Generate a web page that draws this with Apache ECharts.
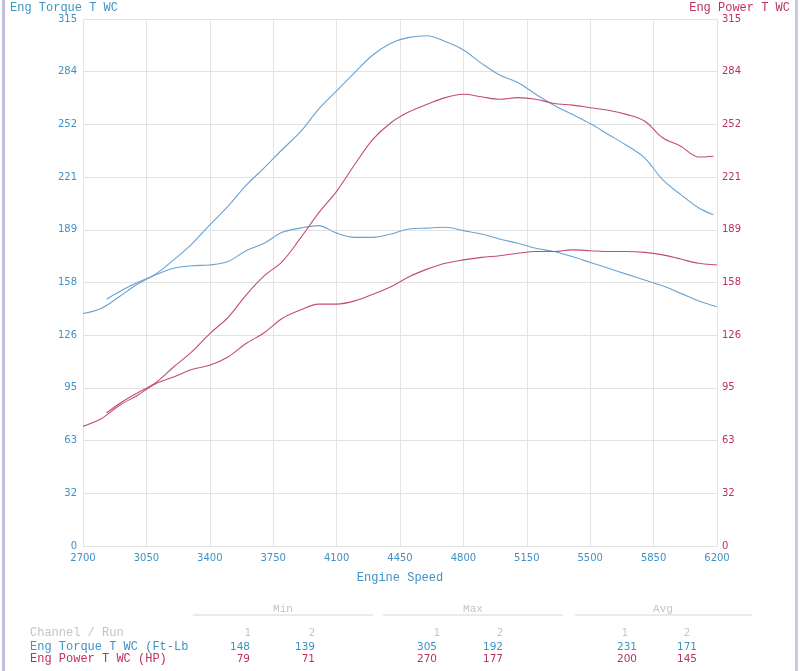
<!DOCTYPE html>
<html>
<head>
<meta charset="utf-8">
<script src="https://cdn.jsdelivr.net/npm/echarts@6/dist/echarts.min.js"></script>
<style>html,body{margin:0;padding:0;background:#fff;}#c{width:800px;height:671px;}</style>
</head>
<body>
<div id="c"></div>
<script>
// ---- data ----
const rpmRun1 = [2830,2900,3000,3100,3200,3300,3400,3500,3600,3700,3800,3900,4000,4100,4200,4300,4400,4500,4600,4700,4800,4900,5000,5100,5200,5300,5400,5500,5600,5700,5800,5900,6000,6100,6180];
const rpmRun2 = [2700,2800,2900,3000,3100,3200,3300,3400,3500,3600,3700,3800,3900,4000,4100,4200,4300,4400,4500,4600,4700,4800,4900,5000,5100,5200,5300,5400,5500,5600,5700,5800,5900,6000,6100,6200];
const torqueRun1 = [147.5,152,157.5,162.5,171,180.5,192,203,215.5,226,237,247.5,261,272,283,293.5,300.5,304,305,301.5,296.5,288.5,281.5,277,270,263.5,258,252.5,246,239.5,232,219,210,202,198];
const powerRun1  = [79.5,85,91.5,97.5,107,116,127,136.5,150,161.5,170,184,199,212,228,243,253,259.5,264,268,270,268.5,267,268,267,264.5,263.5,262,260.5,258,254,244,239,232.5,233];
const torqueRun2 = [139,142,149,156.5,162,166,167.5,168,170,176.5,181,187.5,190,191.5,187,184.5,184.5,186.5,189.5,190,190.5,188.5,186.5,183.5,181,178,176,173,169.5,166,162.5,159,155.5,151,146.5,143];
const powerRun2  = [71.5,76,84,90,97,101,105.5,108,113,121,127.5,136,141,144.6,144.6,146.5,150.5,155,161,165.5,169,171,172.5,173.5,175,176,176,177,176.5,176,176,175.5,174,171.5,169,168];

const xTickStart = 2700, xTickEnd = 6200, xTickStep = 350;
const yTickLabels = [0,32,63,95,126,158,189,221,252,284,315];

const tableChannels = ['Eng Torque T WC (Ft-Lb', 'Eng Power T WC (HP)'];
const tableMin = [[148,139],[79,71]];
const tableMax = [[305,192],[270,177]];
const tableAvg = [[231,171],[200,145]];

// ---- styles ----
const BLUE_LINE = '#6aa3d2', RED_LINE = '#c24d70';
const BLUE_TXT = '#3f92c4', RED_TXT = '#bf2f62';
const GRAY = '#c4c4c4';
const MONO = 'Liberation Mono';
const SANS = 'DejaVu Sans';

function pairs(xs, ys){ return xs.map((x,i)=>[x, ys[i]]); }

const chart = echarts.init(document.getElementById('c'), null, {renderer:'canvas'});

const yAxisBase = (pos, color) => ({
  type:'value', position: pos, min:0, max:315, interval:31.5,
  axisLine:{show:false}, axisTick:{show:false},
  splitLine:{show: pos==='left', lineStyle:{color:'#e2e2e2', width:1}},
  axisLabel:{color: color, fontFamily: SANS, fontSize: 10, margin: pos==='left'?6:5,
    formatter: v => { const i = Math.round(v/31.5); return String(yTickLabels[i]); }}
});

const g = [];
// frame edges (scan borders)
g.push({type:'rect', shape:{x:2,y:0,width:3,height:671}, style:{fill:'#c2bedb'}, silent:true});
g.push({type:'rect', shape:{x:795,y:0,width:3,height:671}, style:{fill:'#c9c9df'}, silent:true});
// axis titles
g.push({type:'text', x:10, y:2, style:{text:'Eng Torque T WC', fill:BLUE_TXT, font:'12px "'+MONO+'"'}});
g.push({type:'text', x:790, y:2, style:{text:'Eng Power T WC', fill:RED_TXT, font:'12px "'+MONO+'"', textAlign:'right'}});

// table headers
const hdr = [['Min',283,193,373],['Max',473,383,563],['Avg',663,575,752]];
hdr.forEach(h=>{
  g.push({type:'text', x:h[1], y:609, style:{text:h[0], fill:GRAY, font:'11px "'+MONO+'"', textAlign:'center', textVerticalAlign:'middle'}});
  g.push({type:'line', shape:{x1:h[2], y1:615, x2:h[3], y2:615}, style:{stroke:'#d6d6d6', lineWidth:1}});
});
g.push({type:'text', x:30, y:633, style:{text:'Channel / Run', fill:GRAY, font:'12px "'+MONO+'"', textVerticalAlign:'middle'}});
const runHdrX = [248,312,437,500,625,687];
runHdrX.forEach((x,i)=>{
  g.push({type:'text', x:x, y:633, style:{text:String(i%2+1), fill:GRAY, font:'10px "'+SANS+'"', textAlign:'center', textVerticalAlign:'middle'}});
});
const numRight = [250,315,437,503,637,697];
const rowY = [647,659];
tableChannels.forEach((name,r)=>{
  const col = r===0 ? BLUE_TXT : RED_TXT;
  g.push({type:'text', x:30, y:rowY[r], style:{text:name, fill:col, font:'12px "'+MONO+'"', textVerticalAlign:'middle'}});
  const vals = [tableMin[r][0],tableMin[r][1],tableMax[r][0],tableMax[r][1],tableAvg[r][0],tableAvg[r][1]];
  vals.forEach((v,i)=>{
    g.push({type:'text', x:numRight[i], y:rowY[r], style:{text:String(v), fill:col, font:'10.5px "'+SANS+'"', textAlign:'right', textVerticalAlign:'middle'}});
  });
});

const lineS = (name, data, color, yIdx) => ({
  name, type:'line', data, yAxisIndex:yIdx, showSymbol:false, symbol:'none', smooth:0.35,
  lineStyle:{color, width:1.1}, itemStyle:{color}, animation:false, z:3
});

chart.setOption({
  backgroundColor:'#ffffff',
  animation:false,
  grid:{left:83, right:83, top:19, bottom:125, containLabel:false},
  xAxis:{
    type:'value', min:xTickStart, max:xTickEnd, interval:xTickStep,
    name:'Engine Speed', nameLocation:'middle', nameGap:26,
    nameTextStyle:{color:BLUE_TXT, fontFamily:MONO, fontSize:12},
    axisLine:{show:false}, axisTick:{show:false},
    splitLine:{show:true, lineStyle:{color:'#e4e4e4', width:1}},
    axisLabel:{color:BLUE_TXT, fontFamily:SANS, fontSize:10, margin:7, formatter: v => String(v)}
  },
  yAxis:[yAxisBase('left', BLUE_TXT), yAxisBase('right', RED_TXT)],
  series:[
    lineS('Torque Run 1', pairs(rpmRun1, torqueRun1), BLUE_LINE, 0),
    lineS('Torque Run 2', pairs(rpmRun2, torqueRun2), BLUE_LINE, 0),
    lineS('Power Run 1', pairs(rpmRun1, powerRun1), RED_LINE, 1),
    lineS('Power Run 2', pairs(rpmRun2, powerRun2), RED_LINE, 1)
  ],
  graphic: g
});
</script>
</body>
</html>
